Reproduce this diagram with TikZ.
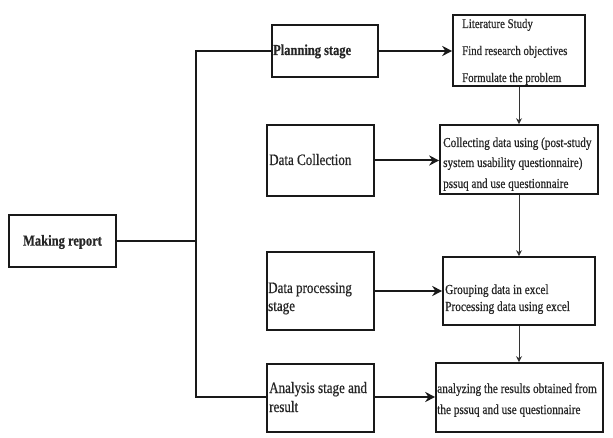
\documentclass[tikz,border=0pt]{standalone}
\usepackage{fontspec}
\setmainfont{Liberation Serif}[FakeStretch=0.82,FakeBold=0.6]
\usetikzlibrary{arrows.meta}
\begin{document}
\begin{tikzpicture}[x=1pt,y=-1pt,
  box/.style={draw=black!90,line width=1.6pt,inner sep=0pt},
  txt/.style={inner sep=0pt,anchor=base west,font=\fontsize{13.8}{16}\selectfont,text=black!85},
  bigtxt/.style={txt,font=\fontsize{15.9}{18}\selectfont},
  littxt/.style={txt,font=\fontsize{13.2}{16}\selectfont},
  coltxt/.style={txt,font=\fontsize{13.65}{16}\selectfont},
  link/.style={line width=1.5pt,draw=black!90},
  bigarrow/.style={line width=2pt,draw=black!90,-{Stealth[length=10pt,width=10pt]}},
  smallarrow/.style={line width=0.8pt,draw=black!80,-{Stealth[length=6pt,width=6pt]}}]
\useasboundingbox (0,0) rectangle (613,438);
% boxes
\node[box,minimum width=107pt,minimum height=52pt] (mr) at (62.5,241) {};
\node[box,minimum width=106pt,minimum height=52pt] (ps) at (325,51) {};
\node[box,minimum width=132pt,minimum height=71pt] (lit) at (519,50.5) {};
\node[box,minimum width=107pt,minimum height=71pt] (dc) at (320.5,160.5) {};
\node[box,minimum width=158pt,minimum height=69pt] (col) at (519,159.5) {};
\node[box,minimum width=107pt,minimum height=78pt] (dp) at (320.5,291) {};
\node[box,minimum width=152pt,minimum height=68pt] (grp) at (519,291) {};
\node[box,minimum width=107pt,minimum height=68pt] (an) at (320.5,398) {};
\node[box,minimum width=167pt,minimum height=69pt] (res) at (519.5,397.5) {};
% texts
\node[inner sep=0pt,font=\fontsize{15.3}{17}\selectfont\bfseries,text=black!85] (tmr) at (62.5,242) {Making report};
\node[txt,font=\fontsize{15.2}{17}\selectfont\bfseries] (tps) at (273,55) {Planning stage};
\node[littxt] (tl1) at (462,28) {Literature Study};
\node[littxt] (tl2) at (462,55) {Find research objectives};
\node[littxt] (tl3) at (462,82) {Formulate the problem};
\node[bigtxt] (tdc) at (269,165) {Data Collection};
\node[coltxt] (tc1) at (443,147) {Collecting data using (post-study};
\node[coltxt] (tc2) at (443,167) {system usability questionnaire)};
\node[coltxt] (tc3) at (443,188) {pssuq and use questionnaire};
\node[bigtxt] (tdp1) at (268,293) {Data processing};
\node[bigtxt] (tdp2) at (268,311) {stage};
\node[txt] (tg1) at (445,294) {Grouping data in excel};
\node[txt] (tg2) at (445,311) {Processing data using excel};
\node[bigtxt] (ta1) at (269,393) {Analysis stage and};
\node[bigtxt] (ta2) at (269,412) {result};
\node[txt] (tr1) at (437,393) {analyzing the results obtained from};
\node[txt] (tr2) at (437,414) {the pssuq and use questionnaire};
% bracket
\coordinate (jn) at (196,241);
\coordinate (bt) at (196,51);
\coordinate (bb) at (196,397);
\draw[link] (mr.east) -- (jn);
\draw[link] (ps.west) -- (bt) -- (bb) -- (bb -| an.west);
% horizontal arrows
\draw[bigarrow] (ps.east) -- (ps.east -| lit.west);
\draw[bigarrow] (dc.east) -- (dc.east -| col.west);
\draw[bigarrow] (dp.east) -- (dp.east -| grp.west);
\draw[bigarrow] (an.east |- bb) -- (bb -| res.west);
% vertical arrows
\draw[smallarrow] (lit.south) -- (lit.south |- col.north);
\draw[smallarrow] (col.south) -- (col.south |- grp.north);
\draw[smallarrow] (grp.south) -- (grp.south |- res.north);
\end{tikzpicture}
\end{document}
